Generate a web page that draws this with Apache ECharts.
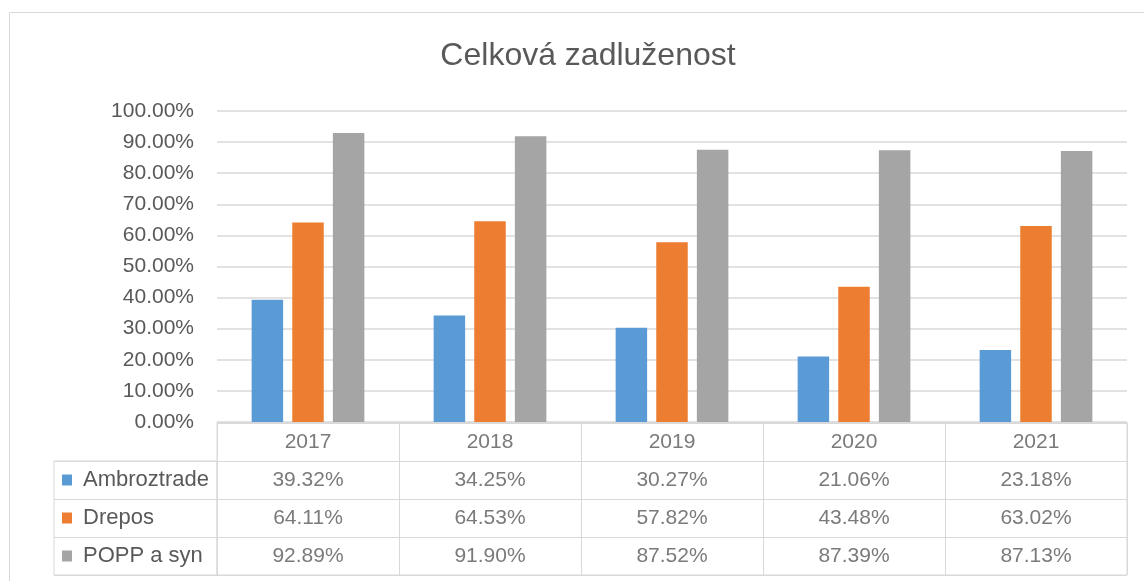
<!DOCTYPE html>
<html>
<head>
<meta charset="utf-8">
<script src="https://cdn.jsdelivr.net/npm/echarts@6/dist/echarts.min.js"></script>
<style>html,body{margin:0;padding:0;background:#fff;}#c{width:1144px;height:581px;}</style>
</head>
<body>
<div id="c"></div>
<script>
const title = 'Celková zadluženost';
const years = ['2017', '2018', '2019', '2020', '2021'];
const seriesNames = ['Ambroztrade', 'Drepos', 'POPP a syn'];
const ambroztrade = [39.32, 34.25, 30.27, 21.06, 23.18];
const drepos = [64.11, 64.53, 57.82, 43.48, 63.02];
const popp = [92.89, 91.90, 87.52, 87.39, 87.13];
const yTicks = { min: 0, max: 100, interval: 10 };

const colors = ['#5b9bd5', '#ed7d31', '#a5a5a5'];
const allValues = [ambroztrade, drepos, popp];
const FONT = "'Liberation Sans', Arial, sans-serif";
const TXT = '#595959';
const LINE = '#d9d9d9';

const rowCats = [''].concat(seriesNames);
const cellData = [];
years.forEach((y, i) => cellData.push({ value: [i, 0], name: y }));
allValues.forEach((arr, s) => arr.forEach((v, i) => cellData.push({ value: [i, s + 1], name: v.toFixed(2) + '%' })));

const rich = { t: { fontSize: 22, color: TXT, fontFamily: FONT, padding: [0, 0, 0, 11] } };
colors.forEach((c, i) => { rich['m' + i] = { backgroundColor: c, width: 10, height: 11 }; });

const chart = echarts.init(document.getElementById('c'), null, { renderer: 'canvas' });
chart.setOption({
  animation: false,
  backgroundColor: '#fff',
  title: {
    text: title, left: 583, top: 35, textAlign: 'center',
    textStyle: { fontSize: 32, fontWeight: 'normal', color: TXT, fontFamily: FONT }
  },
  graphic: [{
    type: 'rect', shape: { x: 9.5, y: 12.5, width: 1200, height: 700 },
    style: { fill: 'none', stroke: LINE, lineWidth: 1 }, silent: true, z: -10
  }],
  grid: [
    { left: 217, top: 111, width: 910, height: 311 },
    { left: 217, top: 423, width: 910, height: 152, show: true, borderColor: LINE, borderWidth: 1 },
    { left: 54, top: 461, width: 163, height: 114, show: true, borderColor: LINE, borderWidth: 1 }
  ],
  xAxis: [
    { gridIndex: 0, type: 'category', data: years, axisLabel: { show: false }, axisTick: { show: false },
      axisLine: { lineStyle: { color: LINE } } },
    { gridIndex: 1, type: 'category', data: years, axisLabel: { show: false }, axisTick: { show: false },
      axisLine: { show: false }, splitLine: { show: true, interval: 0, lineStyle: { color: LINE } } },
    { gridIndex: 2, type: 'value', show: false }
  ],
  yAxis: [
    { gridIndex: 0, type: 'value', min: yTicks.min, max: yTicks.max, interval: yTicks.interval,
      axisLabel: { formatter: v => v.toFixed(2) + '%', fontSize: 21, color: TXT, fontFamily: FONT, margin: 23 },
      axisLine: { show: false }, axisTick: { show: false },
      splitLine: { lineStyle: { color: LINE, width: 1.5 } } },
    { gridIndex: 1, type: 'category', data: rowCats, inverse: true,
      axisLine: { show: false }, axisTick: { show: false },
      splitLine: { show: true, interval: 0, lineStyle: { color: LINE } },
      axisLabel: { align: 'left', margin: 155, interval: 0,
        formatter: (v, i) => i === 0 ? '' : '{m' + (i - 1) + '|}{t|' + v + '}', rich: rich } },
    { gridIndex: 2, type: 'category', data: seriesNames, inverse: true,
      axisLine: { show: false }, axisTick: { show: false }, axisLabel: { show: false },
      splitLine: { show: true, interval: 0, lineStyle: { color: LINE } } }
  ],
  series: allValues.map((arr, s) => ({
    type: 'bar', name: seriesNames[s], xAxisIndex: 0, yAxisIndex: 0, data: arr,
    barWidth: '17.3%', barGap: '29%', itemStyle: { color: colors[s] }
  })).concat([{
    type: 'scatter', xAxisIndex: 1, yAxisIndex: 1, data: cellData, symbolSize: 1,
    itemStyle: { color: 'rgba(0,0,0,0)' }, silent: true,
    label: { show: true, position: 'inside', formatter: p => p.name, fontSize: 21, color: TXT, fontFamily: FONT }
  }])
});
</script>
</body>
</html>
